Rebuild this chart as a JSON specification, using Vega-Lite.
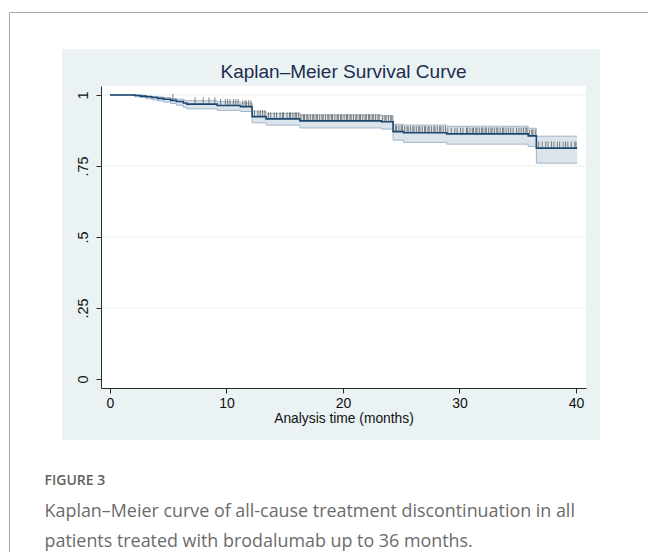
{
  "$schema": "https://vega.github.io/schema/vega-lite/v6.json",
  "width": 485,
  "height": 302,
  "autosize": {"type": "none"},
  "padding": {"left": 101, "top": 86, "right": 62, "bottom": 164},
  "background": "white",
  "title": {
    "text": "Kaplan–Meier Survival Curve",
    "frame": "group",
    "anchor": "middle",
    "baseline": "alphabetic",
    "offset": -85,
    "fontSize": 19,
    "fontWeight": "normal",
    "font": "Liberation Sans",
    "color": "#1c2c50",
    "zindex": 1
  },
  "config": {
    "view": {"stroke": null},
    "font": "Liberation Sans"
  },
  "datasets": {
    "km": [
      {"t": 0, "s": 1, "lo": 1, "hi": 1},
      {"t": 2.15, "s": 0.998, "lo": 0.994, "hi": 1.0},
      {"t": 2.6, "s": 0.996, "lo": 0.991, "hi": 0.999},
      {"t": 3.1, "s": 0.994, "lo": 0.987, "hi": 0.997},
      {"t": 3.6, "s": 0.991, "lo": 0.983, "hi": 0.995},
      {"t": 4.1, "s": 0.988, "lo": 0.979, "hi": 0.993},
      {"t": 4.6, "s": 0.985, "lo": 0.975, "hi": 0.991},
      {"t": 5.2, "s": 0.981, "lo": 0.97, "hi": 0.988},
      {"t": 5.7, "s": 0.977, "lo": 0.964, "hi": 0.985},
      {"t": 6.3, "s": 0.972, "lo": 0.957, "hi": 0.982},
      {"t": 6.6, "s": 0.968, "lo": 0.951, "hi": 0.98},
      {"t": 9.2, "s": 0.963, "lo": 0.946, "hi": 0.976},
      {"t": 11.2, "s": 0.959, "lo": 0.942, "hi": 0.972},
      {"t": 12.2, "s": 0.924, "lo": 0.902, "hi": 0.941},
      {"t": 13.4, "s": 0.916, "lo": 0.894, "hi": 0.935},
      {"t": 16.3, "s": 0.909, "lo": 0.884, "hi": 0.93},
      {"t": 23.3, "s": 0.906, "lo": 0.88, "hi": 0.927},
      {"t": 24.3, "s": 0.871, "lo": 0.841, "hi": 0.897},
      {"t": 25.2, "s": 0.867, "lo": 0.833, "hi": 0.894},
      {"t": 28.9, "s": 0.863, "lo": 0.827, "hi": 0.89},
      {"t": 35.9, "s": 0.856, "lo": 0.819, "hi": 0.883},
      {"t": 36.6, "s": 0.813, "lo": 0.76, "hi": 0.855},
      {"t": 40.1, "s": 0.813, "lo": 0.76, "hi": 0.855}
    ],
    "censor": [
      {"t": 5.4, "s": 0.981},
      {"t": 7.3, "s": 0.968}, {"t": 8.0, "s": 0.968}, {"t": 8.5, "s": 0.968}, {"t": 9.0, "s": 0.968},
      {"t": 9.5, "s": 0.963}, {"t": 9.9, "s": 0.963}, {"t": 10.1, "s": 0.963}, {"t": 10.3, "s": 0.963}, {"t": 10.6, "s": 0.963}, {"t": 10.8, "s": 0.963}, {"t": 11.0, "s": 0.963},
      {"t": 11.4, "s": 0.959}, {"t": 11.6, "s": 0.959}, {"t": 11.7, "s": 0.959}, {"t": 11.9, "s": 0.959}, {"t": 12.1, "s": 0.959},
      {"t": 12.4, "s": 0.924}, {"t": 12.7, "s": 0.924}, {"t": 12.9, "s": 0.924}, {"t": 13.1, "s": 0.924}, {"t": 13.3, "s": 0.924},
      {"t": 13.6, "s": 0.916}, {"t": 13.8, "s": 0.916}, {"t": 14.1, "s": 0.916}, {"t": 14.3, "s": 0.916}, {"t": 14.6, "s": 0.916}, {"t": 14.8, "s": 0.916}, {"t": 14.9, "s": 0.916}, {"t": 15.2, "s": 0.916}, {"t": 15.4, "s": 0.916}, {"t": 15.5, "s": 0.916}, {"t": 15.7, "s": 0.916}, {"t": 15.9, "s": 0.916}, {"t": 16.0, "s": 0.916}, {"t": 16.2, "s": 0.916},
      {"t": 16.4, "s": 0.909}, {"t": 16.6, "s": 0.909}, {"t": 16.7, "s": 0.909}, {"t": 16.9, "s": 0.909}, {"t": 17.0, "s": 0.909}, {"t": 17.2, "s": 0.909}, {"t": 17.4, "s": 0.909}, {"t": 17.5, "s": 0.909}, {"t": 17.7, "s": 0.909}, {"t": 17.8, "s": 0.909}, {"t": 18.0, "s": 0.909}, {"t": 18.2, "s": 0.909}, {"t": 18.3, "s": 0.909}, {"t": 18.5, "s": 0.909}, {"t": 18.7, "s": 0.909}, {"t": 18.8, "s": 0.909}, {"t": 19.0, "s": 0.909}, {"t": 19.1, "s": 0.909}, {"t": 19.3, "s": 0.909}, {"t": 19.5, "s": 0.909}, {"t": 19.6, "s": 0.909}, {"t": 19.8, "s": 0.909}, {"t": 19.9, "s": 0.909}, {"t": 20.1, "s": 0.909}, {"t": 20.3, "s": 0.909}, {"t": 20.4, "s": 0.909}, {"t": 20.6, "s": 0.909}, {"t": 20.7, "s": 0.909}, {"t": 20.9, "s": 0.909}, {"t": 21.1, "s": 0.909}, {"t": 21.2, "s": 0.909}, {"t": 21.4, "s": 0.909}, {"t": 21.5, "s": 0.909}, {"t": 21.7, "s": 0.909}, {"t": 21.9, "s": 0.909}, {"t": 22.0, "s": 0.909}, {"t": 22.2, "s": 0.909}, {"t": 22.3, "s": 0.909}, {"t": 22.5, "s": 0.909}, {"t": 22.6, "s": 0.909}, {"t": 22.8, "s": 0.909}, {"t": 23.0, "s": 0.909}, {"t": 23.1, "s": 0.909},
      {"t": 23.4, "s": 0.906}, {"t": 23.6, "s": 0.906}, {"t": 23.7, "s": 0.906}, {"t": 23.9, "s": 0.906}, {"t": 24.1, "s": 0.906}, {"t": 24.2, "s": 0.906},
      {"t": 24.5, "s": 0.871}, {"t": 24.6, "s": 0.871}, {"t": 24.8, "s": 0.871}, {"t": 25.0, "s": 0.871}, {"t": 25.1, "s": 0.871},
      {"t": 25.3, "s": 0.867}, {"t": 25.5, "s": 0.867}, {"t": 25.6, "s": 0.867}, {"t": 25.8, "s": 0.867}, {"t": 26.0, "s": 0.867}, {"t": 26.1, "s": 0.867}, {"t": 26.3, "s": 0.867}, {"t": 26.5, "s": 0.867}, {"t": 26.6, "s": 0.867}, {"t": 26.8, "s": 0.867}, {"t": 27.0, "s": 0.867}, {"t": 27.1, "s": 0.867}, {"t": 27.3, "s": 0.867}, {"t": 27.4, "s": 0.867}, {"t": 27.6, "s": 0.867}, {"t": 27.8, "s": 0.867}, {"t": 27.9, "s": 0.867}, {"t": 28.1, "s": 0.867}, {"t": 28.3, "s": 0.867}, {"t": 28.4, "s": 0.867}, {"t": 28.6, "s": 0.867}, {"t": 28.8, "s": 0.867},
      {"t": 29.0, "s": 0.863}, {"t": 29.3, "s": 0.863}, {"t": 29.6, "s": 0.863}, {"t": 29.8, "s": 0.863}, {"t": 30.1, "s": 0.863}, {"t": 30.3, "s": 0.863}, {"t": 30.6, "s": 0.863}, {"t": 30.7, "s": 0.863}, {"t": 30.9, "s": 0.863}, {"t": 31.1, "s": 0.863}, {"t": 31.2, "s": 0.863}, {"t": 31.4, "s": 0.863}, {"t": 31.5, "s": 0.863}, {"t": 31.7, "s": 0.863}, {"t": 31.9, "s": 0.863}, {"t": 32.0, "s": 0.863}, {"t": 32.2, "s": 0.863}, {"t": 32.3, "s": 0.863}, {"t": 32.5, "s": 0.863}, {"t": 32.7, "s": 0.863}, {"t": 32.8, "s": 0.863}, {"t": 33.0, "s": 0.863}, {"t": 33.2, "s": 0.863}, {"t": 33.3, "s": 0.863}, {"t": 33.5, "s": 0.863}, {"t": 33.7, "s": 0.863}, {"t": 33.8, "s": 0.863}, {"t": 34.0, "s": 0.863}, {"t": 34.2, "s": 0.863}, {"t": 34.4, "s": 0.863}, {"t": 34.6, "s": 0.863}, {"t": 34.9, "s": 0.863}, {"t": 35.1, "s": 0.863}, {"t": 35.3, "s": 0.863}, {"t": 35.5, "s": 0.863}, {"t": 35.7, "s": 0.863}, {"t": 35.8, "s": 0.863},
      {"t": 36.0, "s": 0.856}, {"t": 36.2, "s": 0.856}, {"t": 36.3, "s": 0.856}, {"t": 36.5, "s": 0.856},
      {"t": 36.8, "s": 0.813}, {"t": 37.1, "s": 0.813}, {"t": 37.4, "s": 0.813}, {"t": 37.6, "s": 0.813}, {"t": 37.9, "s": 0.813}, {"t": 38.1, "s": 0.813}, {"t": 38.4, "s": 0.813}, {"t": 38.6, "s": 0.813}, {"t": 38.9, "s": 0.813}, {"t": 39.1, "s": 0.813}, {"t": 39.3, "s": 0.813}, {"t": 39.6, "s": 0.813}, {"t": 39.9, "s": 0.813}, {"t": 40.0, "s": 0.813}
    ],
    "grid": [{"g": 0.25}, {"g": 0.5}, {"g": 0.75}, {"g": 1}],
    "one": [{}]
  },
  "layer": [
    {
      "data": {"name": "one"},
      "mark": {"type": "rect", "clip": false, "fill": "#eaf2f3"},
      "encoding": {
        "x": {"datum": -4.12, "type": "quantitative", "scale": {"domain": [-0.77, 40.86], "nice": false, "zero": false}, "title": "Analysis time (months)"},
        "x2": {"datum": 42.06},
        "y": {"datum": 1.162, "type": "quantitative", "scale": {"domain": [-0.0317, 1.0317], "nice": false, "zero": false}, "title": null},
        "y2": {"datum": -0.2148}
      }
    },
    {
      "data": {"name": "one"},
      "mark": {"type": "rule", "clip": false, "color": "#a8a8a8", "strokeWidth": 1},
      "encoding": {
        "x": {"datum": -8.627, "type": "quantitative", "scale": {"domain": [-0.77, 40.86], "nice": false, "zero": false}, "title": "Analysis time (months)"},
        "x2": {"datum": 46.4},
        "y": {"datum": 1.2905, "type": "quantitative", "scale": {"domain": [-0.0317, 1.0317], "nice": false, "zero": false}, "title": null}
      }
    },
    {
      "data": {"name": "one"},
      "mark": {"type": "rule", "clip": false, "color": "#a8a8a8", "strokeWidth": 1},
      "encoding": {
        "x": {"datum": -8.627, "type": "quantitative", "scale": {"domain": [-0.77, 40.86], "nice": false, "zero": false}, "title": "Analysis time (months)"},
        "y": {"datum": 1.2905, "type": "quantitative", "scale": {"domain": [-0.0317, 1.0317], "nice": false, "zero": false}, "title": null},
        "y2": {"datum": -0.63}
      }
    },
    {
      "data": {"name": "one"},
      "mark": {"type": "rect", "clip": false, "fill": "#ffffff"},
      "encoding": {
        "x": {"datum": -0.77, "type": "quantitative", "scale": {"domain": [-0.77, 40.86], "nice": false, "zero": false}, "title": "Analysis time (months)"},
        "x2": {"datum": 40.86},
        "y": {"datum": -0.0317, "type": "quantitative", "scale": {"domain": [-0.0317, 1.0317], "nice": false, "zero": false}, "title": null},
        "y2": {"datum": 1.0317}
      }
    },
    {
      "data": {"name": "grid"},
      "mark": {"type": "rule", "color": "#eaf2f3", "strokeWidth": 1.2},
      "encoding": {
        "x": {"datum": -0.77, "type": "quantitative", "scale": {"domain": [-0.77, 40.86], "nice": false, "zero": false}, "title": "Analysis time (months)"},
        "x2": {"datum": 40.86},
        "y": {"field": "g", "type": "quantitative", "scale": {"domain": [-0.0317, 1.0317], "nice": false, "zero": false}, "title": null}
      }
    },
    {
      "data": {"name": "km"},
      "mark": {"type": "area", "interpolate": "step-after", "fill": "#dbe3eb"},
      "encoding": {
        "x": {"field": "t", "type": "quantitative", "scale": {"domain": [-0.77, 40.86], "nice": false, "zero": false}, "title": "Analysis time (months)"},
        "y": {"field": "lo", "type": "quantitative", "scale": {"domain": [-0.0317, 1.0317], "nice": false, "zero": false}, "title": null},
        "y2": {"field": "hi"}
      }
    },
    {
      "data": {"name": "km"},
      "mark": {"type": "line", "interpolate": "step-after", "color": "#a3b6c8", "strokeWidth": 1},
      "encoding": {
        "x": {"field": "t", "type": "quantitative", "scale": {"domain": [-0.77, 40.86], "nice": false, "zero": false}, "title": "Analysis time (months)"},
        "y": {"field": "hi", "type": "quantitative", "scale": {"domain": [-0.0317, 1.0317], "nice": false, "zero": false}, "title": null}
      }
    },
    {
      "data": {"name": "km"},
      "mark": {"type": "line", "interpolate": "step-after", "color": "#a3b6c8", "strokeWidth": 1},
      "encoding": {
        "x": {"field": "t", "type": "quantitative", "scale": {"domain": [-0.77, 40.86], "nice": false, "zero": false}, "title": "Analysis time (months)"},
        "y": {"field": "lo", "type": "quantitative", "scale": {"domain": [-0.0317, 1.0317], "nice": false, "zero": false}, "title": null}
      }
    },
    {
      "data": {"name": "censor"},
      "mark": {"type": "tick", "orient": "vertical", "size": 6, "thickness": 1, "color": "#555555", "opacity": 0.75, "yOffset": -3.5},
      "encoding": {
        "x": {"field": "t", "type": "quantitative", "scale": {"domain": [-0.77, 40.86], "nice": false, "zero": false}, "title": "Analysis time (months)"},
        "y": {"field": "s", "type": "quantitative", "scale": {"domain": [-0.0317, 1.0317], "nice": false, "zero": false}, "title": null}
      }
    },
    {
      "data": {"name": "km"},
      "mark": {"type": "line", "interpolate": "step-after", "color": "#1a476f", "strokeWidth": 1.6},
      "encoding": {
        "x": {
          "field": "t", "type": "quantitative",
          "scale": {"domain": [-0.77, 40.86], "nice": false, "zero": false},
          "title": "Analysis time (months)",
          "axis": {"zindex": 2, "values": [0, 10, 20, 30, 40], "grid": false, "domainColor": "#2a2a2a", "tickColor": "#2a2a2a", "tickSize": 5, "labelPadding": 3, "titlePadding": 1, "labelFlush": false, "labelColor": "#111111", "titleColor": "#111111", "labelFont": "Liberation Sans", "titleFont": "Liberation Sans", "labelFontSize": 14, "titleFontSize": 13.8, "titleFontWeight": "normal"}
        },
        "y": {
          "field": "s", "type": "quantitative",
          "scale": {"domain": [-0.0317, 1.0317], "nice": false, "zero": false},
          "title": null,
          "axis": {"zindex": 2, "values": [0, 0.25, 0.5, 0.75, 1], "grid": false, "domainColor": "#2a2a2a", "tickColor": "#2a2a2a", "tickSize": 5, "labelAngle": -90, "labelAlign": "center", "labelBaseline": "alphabetic", "labelPadding": 9, "labelColor": "#111111", "labelFont": "Liberation Sans", "labelFontSize": 14.5, "labelExpr": "replace(format(datum.value, ''), '0.', '.')"}
        }
      }
    },
    {
      "data": {"name": "one"},
      "mark": {"type": "text", "clip": false, "text": "FIGURE 3", "align": "left", "baseline": "alphabetic", "font": "Open Sans", "fontSize": 14, "fontWeight": 600, "color": "#5f5f5f"},
      "encoding": {
        "x": {"datum": -5.614, "type": "quantitative", "scale": {"domain": [-0.77, 40.86], "nice": false, "zero": false}, "title": "Analysis time (months)"},
        "y": {"datum": -0.3732, "type": "quantitative", "scale": {"domain": [-0.0317, 1.0317], "nice": false, "zero": false}, "title": null}
      }
    },
    {
      "data": {"name": "one"},
      "mark": {"type": "text", "clip": false, "text": "Kaplan–Meier curve of all-cause treatment discontinuation in all", "align": "left", "baseline": "alphabetic", "font": "Open Sans", "fontSize": 17.9, "color": "#6b6b6b"},
      "encoding": {
        "x": {"datum": -5.614, "type": "quantitative", "scale": {"domain": [-0.77, 40.86], "nice": false, "zero": false}, "title": "Analysis time (months)"},
        "y": {"datum": -0.4859, "type": "quantitative", "scale": {"domain": [-0.0317, 1.0317], "nice": false, "zero": false}, "title": null}
      }
    },
    {
      "data": {"name": "one"},
      "mark": {"type": "text", "clip": false, "text": "patients treated with brodalumab up to 36 months.", "align": "left", "baseline": "alphabetic", "font": "Open Sans", "fontSize": 17.9, "color": "#6b6b6b"},
      "encoding": {
        "x": {"datum": -5.614, "type": "quantitative", "scale": {"domain": [-0.77, 40.86], "nice": false, "zero": false}, "title": "Analysis time (months)"},
        "y": {"datum": -0.5915, "type": "quantitative", "scale": {"domain": [-0.0317, 1.0317], "nice": false, "zero": false}, "title": null}
      }
    }
  ]
}
